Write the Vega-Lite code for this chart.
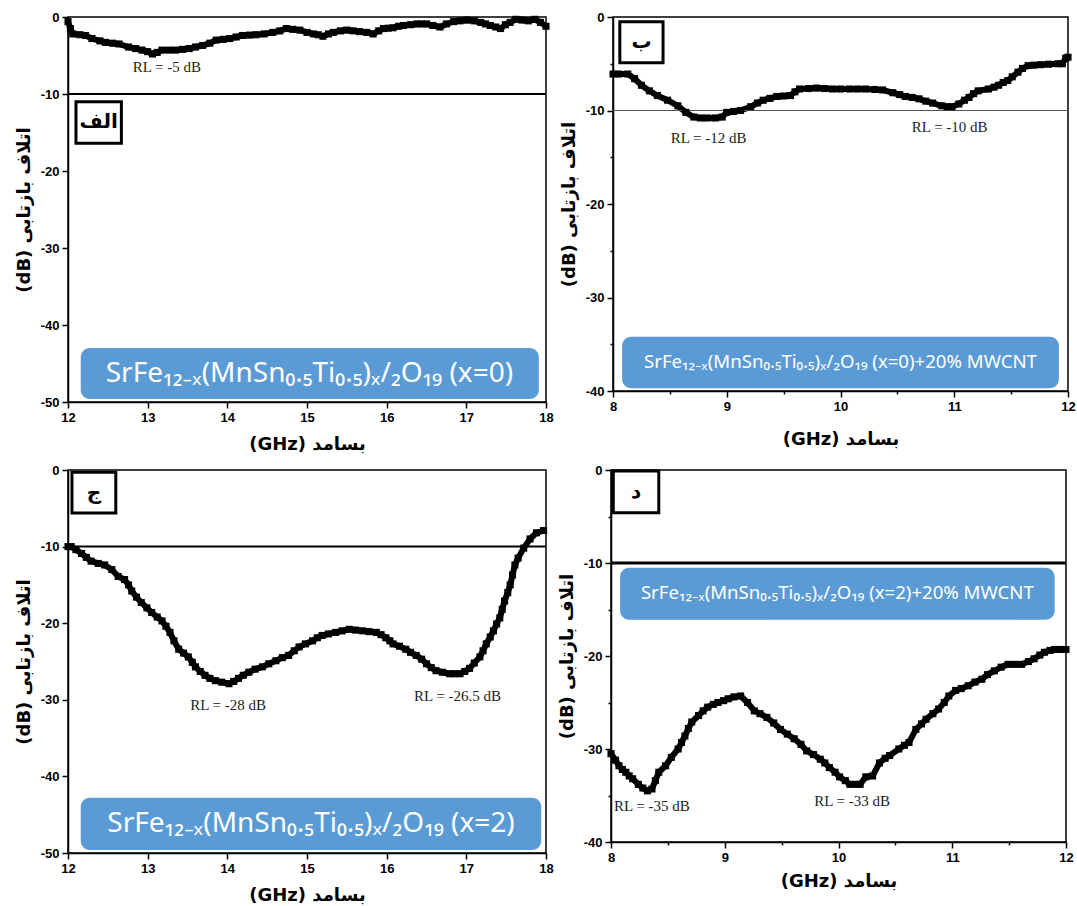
{
  "$schema": "https://vega.github.io/schema/vega-lite/v6.json",
  "padding": {"left": 14, "top": 6, "right": 0, "bottom": 0},
  "background": "white",
  "spacing": 9,
  "datasets": {
    "A": [
      {"freq": 12.0, "rl": -0.6}, {"freq": 12.03, "rl": -1.5}, {"freq": 12.06, "rl": -2.2}, {"freq": 12.15, "rl": -2.3}, {"freq": 12.22, "rl": -2.4},
      {"freq": 12.3, "rl": -2.8}, {"freq": 12.4, "rl": -3.1}, {"freq": 12.47, "rl": -3.3}, {"freq": 12.56, "rl": -3.4}, {"freq": 12.64, "rl": -3.5},
      {"freq": 12.76, "rl": -3.9}, {"freq": 12.85, "rl": -4.1}, {"freq": 12.93, "rl": -4.3}, {"freq": 13.0, "rl": -4.5}, {"freq": 13.06, "rl": -4.8},
      {"freq": 13.12, "rl": -4.6}, {"freq": 13.18, "rl": -4.3}, {"freq": 13.27, "rl": -4.3}, {"freq": 13.35, "rl": -4.3}, {"freq": 13.44, "rl": -4.2},
      {"freq": 13.52, "rl": -4.1}, {"freq": 13.6, "rl": -3.9}, {"freq": 13.69, "rl": -3.7}, {"freq": 13.78, "rl": -3.4}, {"freq": 13.86, "rl": -3.0},
      {"freq": 13.95, "rl": -2.9}, {"freq": 14.03, "rl": -2.8}, {"freq": 14.11, "rl": -2.6}, {"freq": 14.19, "rl": -2.4}, {"freq": 14.28, "rl": -2.35},
      {"freq": 14.36, "rl": -2.3}, {"freq": 14.46, "rl": -2.2}, {"freq": 14.57, "rl": -2.0}, {"freq": 14.66, "rl": -1.8}, {"freq": 14.74, "rl": -1.5},
      {"freq": 14.82, "rl": -1.6}, {"freq": 14.91, "rl": -1.7}, {"freq": 15.0, "rl": -2.0}, {"freq": 15.08, "rl": -2.2}, {"freq": 15.14, "rl": -2.3},
      {"freq": 15.2, "rl": -2.5}, {"freq": 15.27, "rl": -2.2}, {"freq": 15.33, "rl": -2.0}, {"freq": 15.42, "rl": -1.8}, {"freq": 15.5, "rl": -1.7},
      {"freq": 15.58, "rl": -1.8}, {"freq": 15.66, "rl": -1.9}, {"freq": 15.75, "rl": -2.0}, {"freq": 15.83, "rl": -2.2}, {"freq": 15.9, "rl": -1.8},
      {"freq": 15.96, "rl": -1.5}, {"freq": 16.02, "rl": -1.45}, {"freq": 16.08, "rl": -1.4}, {"freq": 16.15, "rl": -1.2}, {"freq": 16.21, "rl": -1.1},
      {"freq": 16.3, "rl": -1.0}, {"freq": 16.38, "rl": -0.9}, {"freq": 16.44, "rl": -0.9}, {"freq": 16.5, "rl": -0.9}, {"freq": 16.58, "rl": -1.1},
      {"freq": 16.67, "rl": -1.3}, {"freq": 16.75, "rl": -0.9}, {"freq": 16.84, "rl": -0.6}, {"freq": 16.92, "rl": -0.5}, {"freq": 17.01, "rl": -0.4},
      {"freq": 17.1, "rl": -0.5}, {"freq": 17.18, "rl": -0.7}, {"freq": 17.24, "rl": -0.9}, {"freq": 17.3, "rl": -1.1}, {"freq": 17.37, "rl": -1.3},
      {"freq": 17.43, "rl": -1.5}, {"freq": 17.49, "rl": -1.0}, {"freq": 17.55, "rl": -0.7}, {"freq": 17.62, "rl": -0.3}, {"freq": 17.7, "rl": -0.4},
      {"freq": 17.78, "rl": -0.5}, {"freq": 17.86, "rl": -0.3}, {"freq": 17.93, "rl": -0.7}, {"freq": 18.0, "rl": -1.2}
    ],
    "B": [
      {"freq": 8.0, "rl": -6.1}, {"freq": 8.05, "rl": -6.1}, {"freq": 8.13, "rl": -6.1}, {"freq": 8.19, "rl": -6.6}, {"freq": 8.25, "rl": -7.3},
      {"freq": 8.32, "rl": -7.9}, {"freq": 8.39, "rl": -8.4}, {"freq": 8.48, "rl": -8.9}, {"freq": 8.57, "rl": -9.5}, {"freq": 8.64, "rl": -10.2},
      {"freq": 8.71, "rl": -10.7}, {"freq": 8.77, "rl": -10.8}, {"freq": 8.83, "rl": -10.8}, {"freq": 8.9, "rl": -10.8}, {"freq": 8.96, "rl": -10.7},
      {"freq": 9.0, "rl": -10.2}, {"freq": 9.06, "rl": -10.1}, {"freq": 9.12, "rl": -10.0}, {"freq": 9.21, "rl": -9.6}, {"freq": 9.27, "rl": -9.2},
      {"freq": 9.32, "rl": -8.9}, {"freq": 9.38, "rl": -8.7}, {"freq": 9.44, "rl": -8.5}, {"freq": 9.5, "rl": -8.45}, {"freq": 9.56, "rl": -8.4},
      {"freq": 9.6, "rl": -8.0}, {"freq": 9.64, "rl": -7.7}, {"freq": 9.72, "rl": -7.65}, {"freq": 9.79, "rl": -7.6}, {"freq": 9.86, "rl": -7.65},
      {"freq": 9.93, "rl": -7.7}, {"freq": 10.0, "rl": -7.7}, {"freq": 10.08, "rl": -7.7}, {"freq": 10.15, "rl": -7.7}, {"freq": 10.22, "rl": -7.7},
      {"freq": 10.3, "rl": -7.75}, {"freq": 10.37, "rl": -7.8}, {"freq": 10.46, "rl": -8.1}, {"freq": 10.52, "rl": -8.3}, {"freq": 10.57, "rl": -8.5},
      {"freq": 10.63, "rl": -8.6}, {"freq": 10.69, "rl": -8.75}, {"freq": 10.75, "rl": -9.0}, {"freq": 10.81, "rl": -9.2}, {"freq": 10.89, "rl": -9.5},
      {"freq": 10.94, "rl": -9.6}, {"freq": 10.98, "rl": -9.6}, {"freq": 11.04, "rl": -9.3}, {"freq": 11.09, "rl": -8.9}, {"freq": 11.13, "rl": -8.6},
      {"freq": 11.17, "rl": -8.2}, {"freq": 11.21, "rl": -7.9}, {"freq": 11.3, "rl": -7.7}, {"freq": 11.35, "rl": -7.5}, {"freq": 11.39, "rl": -7.3},
      {"freq": 11.43, "rl": -7.0}, {"freq": 11.47, "rl": -6.8}, {"freq": 11.51, "rl": -6.4}, {"freq": 11.56, "rl": -5.9}, {"freq": 11.6, "rl": -5.5},
      {"freq": 11.65, "rl": -5.2}, {"freq": 11.7, "rl": -5.15}, {"freq": 11.76, "rl": -5.1}, {"freq": 11.83, "rl": -5.05}, {"freq": 11.91, "rl": -5.0},
      {"freq": 11.95, "rl": -5.0}, {"freq": 11.98, "rl": -4.4}, {"freq": 12.0, "rl": -4.3}
    ],
    "C": [
      {"freq": 12.0, "rl": -10.0}, {"freq": 12.04, "rl": -10.0}, {"freq": 12.1, "rl": -10.4}, {"freq": 12.17, "rl": -10.9}, {"freq": 12.23, "rl": -11.4},
      {"freq": 12.29, "rl": -11.9}, {"freq": 12.38, "rl": -12.2}, {"freq": 12.46, "rl": -12.4}, {"freq": 12.55, "rl": -13.0}, {"freq": 12.63, "rl": -13.9},
      {"freq": 12.71, "rl": -14.3}, {"freq": 12.76, "rl": -15.0}, {"freq": 12.8, "rl": -15.8}, {"freq": 12.86, "rl": -16.6}, {"freq": 12.92, "rl": -17.3},
      {"freq": 12.99, "rl": -18.0}, {"freq": 13.05, "rl": -18.6}, {"freq": 13.12, "rl": -19.2}, {"freq": 13.18, "rl": -19.7}, {"freq": 13.23, "rl": -20.4},
      {"freq": 13.28, "rl": -21.2}, {"freq": 13.33, "rl": -22.3}, {"freq": 13.39, "rl": -23.4}, {"freq": 13.45, "rl": -23.9}, {"freq": 13.51, "rl": -24.4},
      {"freq": 13.56, "rl": -25.1}, {"freq": 13.6, "rl": -25.7}, {"freq": 13.66, "rl": -26.3}, {"freq": 13.72, "rl": -26.8}, {"freq": 13.78, "rl": -27.2},
      {"freq": 13.85, "rl": -27.5}, {"freq": 13.93, "rl": -27.7}, {"freq": 14.02, "rl": -27.9}, {"freq": 14.08, "rl": -27.6}, {"freq": 14.14, "rl": -27.2},
      {"freq": 14.2, "rl": -26.8}, {"freq": 14.27, "rl": -26.4}, {"freq": 14.35, "rl": -26.0}, {"freq": 14.44, "rl": -25.7}, {"freq": 14.52, "rl": -25.3},
      {"freq": 14.61, "rl": -24.9}, {"freq": 14.69, "rl": -24.5}, {"freq": 14.77, "rl": -24.2}, {"freq": 14.84, "rl": -23.6}, {"freq": 14.9, "rl": -23.1},
      {"freq": 14.98, "rl": -22.7}, {"freq": 15.07, "rl": -22.3}, {"freq": 15.13, "rl": -21.9}, {"freq": 15.19, "rl": -21.6}, {"freq": 15.27, "rl": -21.4},
      {"freq": 15.36, "rl": -21.2}, {"freq": 15.44, "rl": -21.0}, {"freq": 15.53, "rl": -20.8}, {"freq": 15.61, "rl": -20.9}, {"freq": 15.7, "rl": -21.0},
      {"freq": 15.78, "rl": -21.1}, {"freq": 15.87, "rl": -21.2}, {"freq": 15.93, "rl": -21.5}, {"freq": 15.99, "rl": -21.9}, {"freq": 16.04, "rl": -22.3},
      {"freq": 16.08, "rl": -22.7}, {"freq": 16.16, "rl": -23.0}, {"freq": 16.24, "rl": -23.4}, {"freq": 16.3, "rl": -23.8}, {"freq": 16.37, "rl": -24.2},
      {"freq": 16.44, "rl": -24.7}, {"freq": 16.5, "rl": -25.3}, {"freq": 16.56, "rl": -25.8}, {"freq": 16.62, "rl": -26.2}, {"freq": 16.7, "rl": -26.4},
      {"freq": 16.79, "rl": -26.6}, {"freq": 16.85, "rl": -26.6}, {"freq": 16.92, "rl": -26.6}, {"freq": 16.98, "rl": -26.3}, {"freq": 17.04, "rl": -25.9},
      {"freq": 17.1, "rl": -25.2}, {"freq": 17.17, "rl": -24.4}, {"freq": 17.21, "rl": -23.6}, {"freq": 17.25, "rl": -22.7}, {"freq": 17.3, "rl": -21.8},
      {"freq": 17.34, "rl": -21.0}, {"freq": 17.38, "rl": -20.1}, {"freq": 17.42, "rl": -19.3}, {"freq": 17.45, "rl": -18.2}, {"freq": 17.48, "rl": -17.1},
      {"freq": 17.52, "rl": -16.0}, {"freq": 17.55, "rl": -15.0}, {"freq": 17.58, "rl": -13.7}, {"freq": 17.61, "rl": -12.4}, {"freq": 17.65, "rl": -11.5},
      {"freq": 17.72, "rl": -10.2}, {"freq": 17.8, "rl": -9.0}, {"freq": 17.88, "rl": -8.2}, {"freq": 17.97, "rl": -7.9}
    ],
    "D": [
      {"freq": 8.0, "rl": -30.5}, {"freq": 8.04, "rl": -31.2}, {"freq": 8.07, "rl": -31.8}, {"freq": 8.1, "rl": -32.2}, {"freq": 8.13, "rl": -32.5},
      {"freq": 8.16, "rl": -32.9}, {"freq": 8.19, "rl": -33.2}, {"freq": 8.24, "rl": -33.8}, {"freq": 8.28, "rl": -34.2}, {"freq": 8.32, "rl": -34.5},
      {"freq": 8.36, "rl": -34.3}, {"freq": 8.39, "rl": -33.4}, {"freq": 8.42, "rl": -32.5}, {"freq": 8.48, "rl": -31.8}, {"freq": 8.53, "rl": -30.9},
      {"freq": 8.59, "rl": -30.0}, {"freq": 8.62, "rl": -29.3}, {"freq": 8.65, "rl": -28.6}, {"freq": 8.68, "rl": -27.8}, {"freq": 8.71, "rl": -27.1},
      {"freq": 8.77, "rl": -26.4}, {"freq": 8.81, "rl": -25.9}, {"freq": 8.85, "rl": -25.5}, {"freq": 8.9, "rl": -25.2}, {"freq": 8.94, "rl": -25.0},
      {"freq": 8.99, "rl": -24.8}, {"freq": 9.03, "rl": -24.6}, {"freq": 9.08, "rl": -24.4}, {"freq": 9.14, "rl": -24.3}, {"freq": 9.2, "rl": -25.0},
      {"freq": 9.26, "rl": -25.9}, {"freq": 9.31, "rl": -26.2}, {"freq": 9.37, "rl": -26.6}, {"freq": 9.43, "rl": -27.2}, {"freq": 9.49, "rl": -27.9},
      {"freq": 9.55, "rl": -28.4}, {"freq": 9.61, "rl": -28.9}, {"freq": 9.67, "rl": -29.5}, {"freq": 9.72, "rl": -30.2}, {"freq": 9.78, "rl": -30.6},
      {"freq": 9.84, "rl": -31.1}, {"freq": 9.88, "rl": -31.5}, {"freq": 9.92, "rl": -32.0}, {"freq": 9.97, "rl": -32.5}, {"freq": 10.01, "rl": -33.0},
      {"freq": 10.06, "rl": -33.4}, {"freq": 10.1, "rl": -33.8}, {"freq": 10.15, "rl": -33.8}, {"freq": 10.19, "rl": -33.8}, {"freq": 10.24, "rl": -33.0},
      {"freq": 10.3, "rl": -32.9}, {"freq": 10.36, "rl": -31.5}, {"freq": 10.41, "rl": -31.0}, {"freq": 10.45, "rl": -30.7}, {"freq": 10.53, "rl": -30.0},
      {"freq": 10.58, "rl": -29.6}, {"freq": 10.62, "rl": -29.3}, {"freq": 10.68, "rl": -27.9}, {"freq": 10.73, "rl": -27.3}, {"freq": 10.77, "rl": -26.8},
      {"freq": 10.83, "rl": -26.2}, {"freq": 10.88, "rl": -25.7}, {"freq": 10.93, "rl": -25.0}, {"freq": 10.97, "rl": -24.3}, {"freq": 11.03, "rl": -23.7},
      {"freq": 11.08, "rl": -23.5}, {"freq": 11.14, "rl": -23.2}, {"freq": 11.2, "rl": -22.8}, {"freq": 11.26, "rl": -22.5}, {"freq": 11.31, "rl": -22.0},
      {"freq": 11.37, "rl": -21.6}, {"freq": 11.43, "rl": -21.2}, {"freq": 11.49, "rl": -20.9}, {"freq": 11.55, "rl": -20.9}, {"freq": 11.61, "rl": -20.9},
      {"freq": 11.67, "rl": -20.6}, {"freq": 11.72, "rl": -20.3}, {"freq": 11.77, "rl": -19.9}, {"freq": 11.81, "rl": -19.6}, {"freq": 11.86, "rl": -19.4},
      {"freq": 11.9, "rl": -19.3}, {"freq": 11.95, "rl": -19.3}, {"freq": 12.0, "rl": -19.3}
    ]
  },
  "vconcat": [
    {
      "spacing": 0,
      "hconcat": [
        {
          "width": 478, "height": 385,
          "layer": [
            {"data": {"name": "A"},
             "mark": {"type": "line", "color": "black", "strokeWidth": 6},
             "encoding": {
               "x": {"field": "freq", "type": "quantitative", "scale": {"domain": [12, 18], "nice": false, "zero": false},
                     "axis": {"values": [12, 12.5, 13, 13.5, 14, 14.5, 15, 15.5, 16, 16.5, 17, 17.5, 18], "labelExpr": "datum.value % 1 === 0 ? '' + datum.value : ''", "tickSize": {"condition": {"test": "datum.value % 1 !== 0", "value": 3}, "value": 6}, "title": "(GHz) بسامد", "titlePadding": 11}},
               "y": {"field": "rl", "type": "quantitative", "scale": {"domain": [-50, 0], "nice": false, "zero": false},
                     "axis": {"values": [0, -5, -10, -15, -20, -25, -30, -35, -40, -45, -50], "labelExpr": "datum.value % 10 === 0 ? '' + datum.value : ''", "tickSize": {"condition": {"test": "datum.value % 10 !== 0", "value": 3}, "value": 6}, "title": "(dB) اتلاف بازتابی", "titlePadding": 7}}
             }},
            {"data": {"values": [{"x1": 12.16, "x2": 17.91, "y1": -43, "y2": -49.6}]},
             "mark": {"type": "rect", "fill": "#5B9BD5", "cornerRadius": 9},
             "encoding": {"x": {"field": "x1", "type": "quantitative"}, "x2": {"field": "x2"}, "y": {"field": "y1", "type": "quantitative"}, "y2": {"field": "y2"}}},
            {"data": {"values": [{"xm": 15.03, "ym": -46.3, "t": "SrFe₁₂₋ₓ(MnSn₀.₅Ti₀.₅)ₓ/₂O₁₉ (x=0)"}]},
             "mark": {"type": "text", "color": "white", "fontSize": 28, "font": "Noto Sans", "baseline": "middle", "align": "center"},
             "encoding": {"x": {"field": "xm", "type": "quantitative"}, "y": {"field": "ym", "type": "quantitative"}, "text": {"field": "t"}}},
            {"data": {"values": [{"x1": 12.1, "x2": 12.67, "y1": -11.0, "y2": -16.4}]},
             "mark": {"type": "rect", "fill": "white", "stroke": "black", "strokeWidth": 3},
             "encoding": {"x": {"field": "x1", "type": "quantitative"}, "x2": {"field": "x2"}, "y": {"field": "y1", "type": "quantitative"}, "y2": {"field": "y2"}}},
            {"data": {"values": [{"xm": 12.385, "ym": -13.7, "t": "الف"}]},
             "mark": {"type": "text", "color": "black", "fontSize": 20, "font": "DejaVu Sans", "fontWeight": "bold", "baseline": "middle", "align": "center"},
             "encoding": {"x": {"field": "xm", "type": "quantitative"}, "y": {"field": "ym", "type": "quantitative"}, "text": {"field": "t"}}},
            {"data": {"values": [{"ref": -10}]},
             "mark": {"type": "rule", "color": "black", "strokeWidth": 2},
             "encoding": {"y": {"field": "ref", "type": "quantitative"}}},
            {"data": {"name": "A"},
             "mark": {"type": "point", "shape": "square", "filled": true, "color": "black", "size": 50, "opacity": 1},
             "encoding": {"x": {"field": "freq", "type": "quantitative"}, "y": {"field": "rl", "type": "quantitative"}}},
            {"data": {"values": [{"xm": 13.24, "ym": -6.5, "t": "RL = -5 dB"}]},
             "mark": {"type": "text", "color": "#222222", "fontSize": 15, "font": "Liberation Serif", "baseline": "middle", "align": "center"},
             "encoding": {"x": {"field": "xm", "type": "quantitative"}, "y": {"field": "ym", "type": "quantitative"}, "text": {"field": "t"}}}
          ]
        },
        {
          "width": 455, "height": 374,
          "layer": [
            {"data": {"name": "B"},
             "mark": {"type": "line", "color": "black", "strokeWidth": 6},
             "encoding": {
               "x": {"field": "freq", "type": "quantitative", "scale": {"domain": [8, 12], "nice": false, "zero": false},
                     "axis": {"values": [8, 8.5, 9, 9.5, 10, 10.5, 11, 11.5, 12], "labelExpr": "datum.value % 1 === 0 ? '' + datum.value : ''", "tickSize": {"condition": {"test": "datum.value % 1 !== 0", "value": 3}, "value": 6}, "title": "(GHz) بسامد", "titlePadding": 17}},
               "y": {"field": "rl", "type": "quantitative", "scale": {"domain": [-40, 0], "nice": false, "zero": false},
                     "axis": {"values": [0, -5, -10, -15, -20, -25, -30, -35, -40], "labelExpr": "datum.value % 10 === 0 ? '' + datum.value : ''", "tickSize": {"condition": {"test": "datum.value % 10 !== 0", "value": 3}, "value": 6}, "title": "(dB) اتلاف بازتابی", "titlePadding": 7}}
             }},
            {"data": {"values": [{"x1": 8.08, "x2": 11.92, "y1": -34.2, "y2": -39.7}]},
             "mark": {"type": "rect", "fill": "#5B9BD5", "cornerRadius": 9},
             "encoding": {"x": {"field": "x1", "type": "quantitative"}, "x2": {"field": "x2"}, "y": {"field": "y1", "type": "quantitative"}, "y2": {"field": "y2"}}},
            {"data": {"values": [{"xm": 10.0, "ym": -36.9, "t": "SrFe₁₂₋ₓ(MnSn₀.₅Ti₀.₅)ₓ/₂O₁₉ (x=0)+20% MWCNT"}]},
             "mark": {"type": "text", "color": "white", "fontSize": 18.6, "font": "Noto Sans", "baseline": "middle", "align": "center"},
             "encoding": {"x": {"field": "xm", "type": "quantitative"}, "y": {"field": "ym", "type": "quantitative"}, "text": {"field": "t"}}},
            {"data": {"values": [{"x1": 8.06, "x2": 8.44, "y1": -0.5, "y2": -4.9}]},
             "mark": {"type": "rect", "fill": "white", "stroke": "black", "strokeWidth": 3},
             "encoding": {"x": {"field": "x1", "type": "quantitative"}, "x2": {"field": "x2"}, "y": {"field": "y1", "type": "quantitative"}, "y2": {"field": "y2"}}},
            {"data": {"values": [{"xm": 8.25, "ym": -2.7, "t": "ب"}]},
             "mark": {"type": "text", "color": "black", "fontSize": 20, "font": "DejaVu Sans", "fontWeight": "bold", "baseline": "middle", "align": "center"},
             "encoding": {"x": {"field": "xm", "type": "quantitative"}, "y": {"field": "ym", "type": "quantitative"}, "text": {"field": "t"}}},
            {"data": {"values": [{"ref": -10}]},
             "mark": {"type": "rule", "color": "#555555", "strokeWidth": 1},
             "encoding": {"y": {"field": "ref", "type": "quantitative"}}},
            {"data": {"name": "B"},
             "mark": {"type": "point", "shape": "square", "filled": true, "color": "black", "size": 50, "opacity": 1},
             "encoding": {"x": {"field": "freq", "type": "quantitative"}, "y": {"field": "rl", "type": "quantitative"}}},
            {"data": {"values": [{"xm": 8.84, "ym": -12.9, "t": "RL = -12 dB"}, {"xm": 10.96, "ym": -11.8, "t": "RL = -10 dB"}]},
             "mark": {"type": "text", "color": "#222222", "fontSize": 15, "font": "Liberation Serif", "baseline": "middle", "align": "center"},
             "encoding": {"x": {"field": "xm", "type": "quantitative"}, "y": {"field": "ym", "type": "quantitative"}, "text": {"field": "t"}}}
          ]
        }
      ]
    },
    {
      "spacing": 0,
      "hconcat": [
        {
          "width": 478, "height": 383,
          "layer": [
            {"data": {"name": "C"},
             "mark": {"type": "line", "color": "black", "strokeWidth": 6},
             "encoding": {
               "x": {"field": "freq", "type": "quantitative", "scale": {"domain": [12, 18], "nice": false, "zero": false},
                     "axis": {"values": [12, 12.5, 13, 13.5, 14, 14.5, 15, 15.5, 16, 16.5, 17, 17.5, 18], "labelExpr": "datum.value % 1 === 0 ? '' + datum.value : ''", "tickSize": {"condition": {"test": "datum.value % 1 !== 0", "value": 3}, "value": 6}, "title": "(GHz) بسامد", "titlePadding": 11}},
               "y": {"field": "rl", "type": "quantitative", "scale": {"domain": [-50, 0], "nice": false, "zero": false},
                     "axis": {"values": [0, -5, -10, -15, -20, -25, -30, -35, -40, -45, -50], "labelExpr": "datum.value % 10 === 0 ? '' + datum.value : ''", "tickSize": {"condition": {"test": "datum.value % 10 !== 0", "value": 3}, "value": 6}, "title": "(dB) اتلاف بازتابی", "titlePadding": 7}}
             }},
            {"data": {"values": [{"x1": 12.16, "x2": 17.94, "y1": -42.8, "y2": -49.6}]},
             "mark": {"type": "rect", "fill": "#5B9BD5", "cornerRadius": 9},
             "encoding": {"x": {"field": "x1", "type": "quantitative"}, "x2": {"field": "x2"}, "y": {"field": "y1", "type": "quantitative"}, "y2": {"field": "y2"}}},
            {"data": {"values": [{"xm": 15.05, "ym": -46.2, "t": "SrFe₁₂₋ₓ(MnSn₀.₅Ti₀.₅)ₓ/₂O₁₉ (x=2)"}]},
             "mark": {"type": "text", "color": "white", "fontSize": 28, "font": "Noto Sans", "baseline": "middle", "align": "center"},
             "encoding": {"x": {"field": "xm", "type": "quantitative"}, "y": {"field": "ym", "type": "quantitative"}, "text": {"field": "t"}}},
            {"data": {"values": [{"x1": 12.05, "x2": 12.6, "y1": -0.3, "y2": -5.6}]},
             "mark": {"type": "rect", "fill": "white", "stroke": "black", "strokeWidth": 3},
             "encoding": {"x": {"field": "x1", "type": "quantitative"}, "x2": {"field": "x2"}, "y": {"field": "y1", "type": "quantitative"}, "y2": {"field": "y2"}}},
            {"data": {"values": [{"xm": 12.325, "ym": -2.95, "t": "ج"}]},
             "mark": {"type": "text", "color": "black", "fontSize": 20, "font": "DejaVu Sans", "fontWeight": "bold", "baseline": "middle", "align": "center"},
             "encoding": {"x": {"field": "xm", "type": "quantitative"}, "y": {"field": "ym", "type": "quantitative"}, "text": {"field": "t"}}},
            {"data": {"values": [{"ref": -10}]},
             "mark": {"type": "rule", "color": "black", "strokeWidth": 2},
             "encoding": {"y": {"field": "ref", "type": "quantitative"}}},
            {"data": {"name": "C"},
             "mark": {"type": "point", "shape": "square", "filled": true, "color": "black", "size": 50, "opacity": 1},
             "encoding": {"x": {"field": "freq", "type": "quantitative"}, "y": {"field": "rl", "type": "quantitative"}}},
            {"data": {"values": [{"xm": 14.01, "ym": -30.7, "t": "RL = -28 dB"}, {"xm": 16.89, "ym": -29.5, "t": "RL = -26.5 dB"}]},
             "mark": {"type": "text", "color": "#222222", "fontSize": 15, "font": "Liberation Serif", "baseline": "middle", "align": "center"},
             "encoding": {"x": {"field": "xm", "type": "quantitative"}, "y": {"field": "ym", "type": "quantitative"}, "text": {"field": "t"}}}
          ]
        },
        {
          "width": 455, "height": 372,
          "layer": [
            {"data": {"name": "D"},
             "mark": {"type": "line", "color": "black", "strokeWidth": 6},
             "encoding": {
               "x": {"field": "freq", "type": "quantitative", "scale": {"domain": [8, 12], "nice": false, "zero": false},
                     "axis": {"values": [8, 8.5, 9, 9.5, 10, 10.5, 11, 11.5, 12], "labelExpr": "datum.value % 1 === 0 ? '' + datum.value : ''", "tickSize": {"condition": {"test": "datum.value % 1 !== 0", "value": 3}, "value": 6}, "title": "(GHz) بسامد", "titlePadding": 8}},
               "y": {"field": "rl", "type": "quantitative", "scale": {"domain": [-40, 0], "nice": false, "zero": false},
                     "axis": {"values": [0, -5, -10, -15, -20, -25, -30, -35, -40], "labelExpr": "datum.value % 10 === 0 ? '' + datum.value : ''", "tickSize": {"condition": {"test": "datum.value % 10 !== 0", "value": 3}, "value": 6}, "title": "(dB) اتلاف بازتابی", "titlePadding": 7}}
             }},
            {"data": {"values": [{"x1": 8.08, "x2": 11.9, "y1": -10.5, "y2": -16.1}]},
             "mark": {"type": "rect", "fill": "#5B9BD5", "cornerRadius": 9},
             "encoding": {"x": {"field": "x1", "type": "quantitative"}, "x2": {"field": "x2"}, "y": {"field": "y1", "type": "quantitative"}, "y2": {"field": "y2"}}},
            {"data": {"values": [{"xm": 9.99, "ym": -13.2, "t": "SrFe₁₂₋ₓ(MnSn₀.₅Ti₀.₅)ₓ/₂O₁₉ (x=2)+20% MWCNT"}]},
             "mark": {"type": "text", "color": "white", "fontSize": 18.6, "font": "Noto Sans", "baseline": "middle", "align": "center"},
             "encoding": {"x": {"field": "xm", "type": "quantitative"}, "y": {"field": "ym", "type": "quantitative"}, "text": {"field": "t"}}},
            {"data": {"values": [{"x1": 8.02, "x2": 8.42, "y1": -0.1, "y2": -4.6}]},
             "mark": {"type": "rect", "fill": "white", "stroke": "black", "strokeWidth": 3},
             "encoding": {"x": {"field": "x1", "type": "quantitative"}, "x2": {"field": "x2"}, "y": {"field": "y1", "type": "quantitative"}, "y2": {"field": "y2"}}},
            {"data": {"values": [{"xm": 8.22, "ym": -2.35, "t": "د"}]},
             "mark": {"type": "text", "color": "black", "fontSize": 20, "font": "DejaVu Sans", "fontWeight": "bold", "baseline": "middle", "align": "center"},
             "encoding": {"x": {"field": "xm", "type": "quantitative"}, "y": {"field": "ym", "type": "quantitative"}, "text": {"field": "t"}}},
            {"data": {"values": [{"ref": -10}]},
             "mark": {"type": "rule", "color": "black", "strokeWidth": 3},
             "encoding": {"y": {"field": "ref", "type": "quantitative"}}},
            {"data": {"name": "D"},
             "mark": {"type": "point", "shape": "square", "filled": true, "color": "black", "size": 50, "opacity": 1},
             "encoding": {"x": {"field": "freq", "type": "quantitative"}, "y": {"field": "rl", "type": "quantitative"}}},
            {"data": {"values": [{"xm": 8.36, "ym": -36.1, "t": "RL = -35 dB"}, {"xm": 10.12, "ym": -35.6, "t": "RL = -33 dB"}]},
             "mark": {"type": "text", "color": "#222222", "fontSize": 15, "font": "Liberation Serif", "baseline": "middle", "align": "center"},
             "encoding": {"x": {"field": "xm", "type": "quantitative"}, "y": {"field": "ym", "type": "quantitative"}, "text": {"field": "t"}}}
          ]
        }
      ]
    }
  ],
  "config": {
    "view": {"stroke": "black", "strokeWidth": 1.5},
    "axis": {
      "domainColor": "black", "domainWidth": 1.5, "tickColor": "black", "tickWidth": 1.5,
      "labelFont": "Liberation Sans", "labelFontWeight": "bold", "labelFontSize": 13, "labelColor": "black", "labelPadding": 3,
      "labelOverlap": false, "labelFlush": false, "grid": false,
      "titleFont": "DejaVu Sans", "titleFontWeight": "bold", "titleFontSize": 18, "titleColor": "black"
    }
  }
}
